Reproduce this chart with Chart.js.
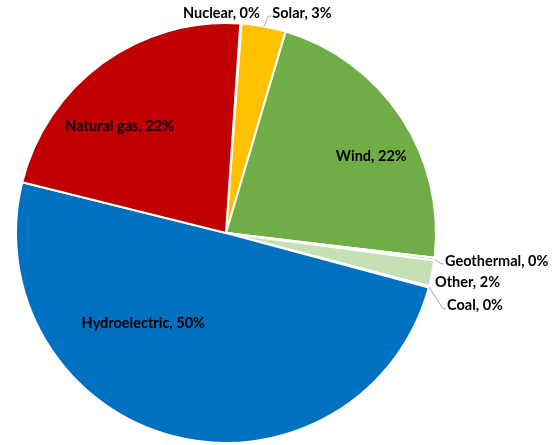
<!DOCTYPE html>
<html>
<head>
<meta charset="utf-8">
<script src="https://cdn.jsdelivr.net/npm/chart.js@4.4.1/dist/chart.umd.min.js"></script>
<style>
    body { margin: 0; background: #fff; }
    canvas { display: block; }
</style>
</head>
<body>
<canvas id="pieChart" width="554" height="445"></canvas>
<script>
const sources = ["Nuclear", "Solar", "Wind", "Geothermal", "Other", "Coal", "Hydroelectric", "Natural gas"];
const shares = [0.1, 3.4, 22.3, 0.2, 2.0, 0.1, 49.7, 22.2];
const colors = ["#7F7F7F", "#FFC000", "#70AD47", "#A9D18E", "#C5E0B4", "#404040", "#0070C0", "#C00000"];

// where each label sits: angle (deg, clockwise from top), distance as fraction of radius
const labelPlaces = [
    { angle: 8.75, r: 1.06, align: "right", leader: false },
    { angle: 11.9, r: 1.07, align: "left", leader: true },
    { angle: 62.2, r: 0.782, align: "center", leader: false },
    { angle: 97.25, r: 1.051, align: "left", leader: true },
    { angle: 103.4, r: 1.023, align: "left", leader: false },
    { angle: 108.2, r: 1.108, align: "left", leader: true },
    { angle: 222.4, r: 0.584, align: "center", leader: false },
    { angle: 315, r: 0.716, align: "center", leader: false }
];

const pieLabels = {
    id: "pieLabels",
    afterDatasetsDraw(chart) {
        const ctx = chart.ctx;
        const meta = chart.getDatasetMeta(0);
        const total = shares.reduce((a, b) => a + b, 0);

        ctx.save();
        ctx.font = "bold 14.5px Lato, 'DejaVu Sans', sans-serif";
        ctx.textBaseline = "middle";
        ctx.fillStyle = "#000";

        meta.data.forEach((arc, i) => {
            const p = labelPlaces[i];
            const R = arc.outerRadius;
            const a = p.angle * Math.PI / 180;
            const x = arc.x + p.r * R * Math.sin(a);
            const y = arc.y - p.r * R * Math.cos(a);

            if (p.leader) {
                const mid = (arc.startAngle + arc.endAngle) / 2;
                const ex = arc.x + R * Math.cos(mid);
                const ey = arc.y + R * Math.sin(mid);
                ctx.strokeStyle = "#a6a6a6";
                ctx.lineWidth = 1;
                ctx.beginPath();
                ctx.moveTo(ex, ey);
                ctx.lineTo(x - 4, y + 3);
                ctx.lineTo(x - 1, y + 3);
                ctx.stroke();
            }

            ctx.textAlign = p.align;
            const pct = Math.round(shares[i] / total * 100);
            ctx.fillText(sources[i] + ", " + pct + "%", x, y);
        });
        ctx.restore();
    }
};

new Chart(document.getElementById("pieChart"), {
    type: "pie",
    data: {
        labels: sources,
        datasets: [
            {
                data: shares,
                backgroundColor: colors,
                borderColor: "#ffffff",
                borderWidth: 2
            }
        ]
    },
    options: {
        responsive: false,
        animation: false,
        rotation: 3.9,
        layout: {
            padding: { left: 15, right: 117, top: 22, bottom: 1 }
        },
        plugins: {
            legend: { display: false },
            tooltip: { enabled: false }
        }
    },
    plugins: [pieLabels]
});
</script>
</body>
</html>
